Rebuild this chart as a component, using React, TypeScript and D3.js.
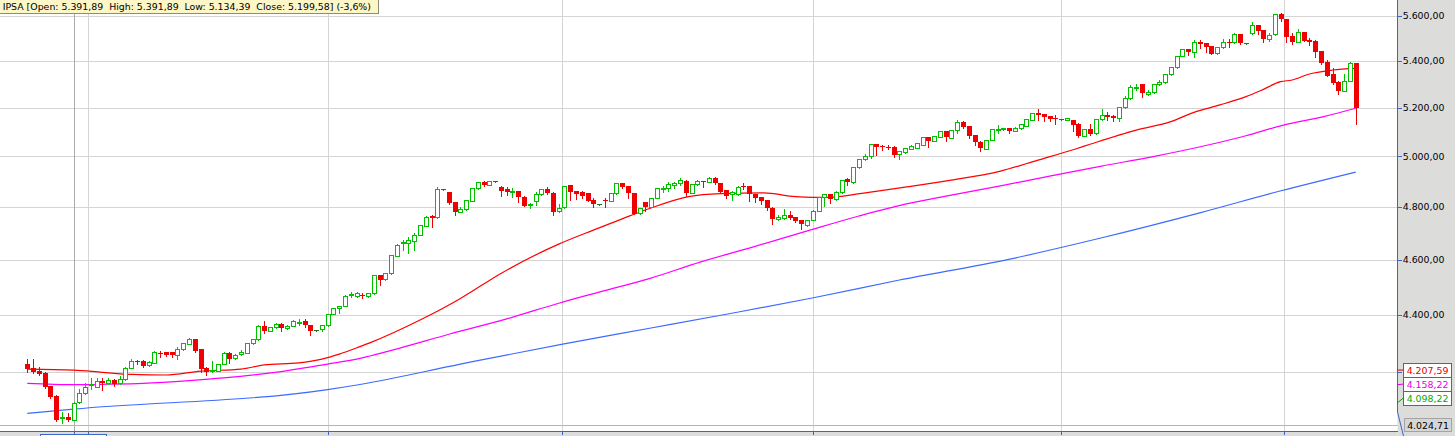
import React from 'react';
import * as d3 from 'd3';

// ---------- DATA ----------
// daily candles: [open, high, low, close]
const ohlc: [number, number, number, number][] = [
  [4228.2, 4244.2, 4202.0, 4211.1], [4214.5, 4244.2, 4199.2, 4202.0], [4203.3, 4216.9, 4191.8, 4195.2],
  [4197.6, 4201.0, 4146.0, 4151.4], [4153.7, 4155.0, 4112.7, 4118.0], [4120.3, 4123.7, 4038.9, 4041.2],
  [4047.8, 4068.4, 4030.5, 4051.0], [4050.1, 4063.2, 4038.9, 4041.2], [4041.2, 4102.0, 4040.0, 4098.22],
  [4099.4, 4142.3, 4098.0, 4129.3], [4129.3, 4163.8, 4128.0, 4151.4], [4158.8, 4179.6, 4143.3, 4160.5],
  [4151.4, 4179.6, 4150.0, 4169.5], [4169.5, 4179.6, 4140.3, 4162.8], [4162.8, 4181.7, 4161.0, 4173.9],
  [4173.9, 4177.3, 4154.8, 4160.5], [4162.8, 4188.4, 4161.0, 4176.3], [4176.3, 4218.9, 4175.0, 4214.5],
  [4214.5, 4244.2, 4213.0, 4237.4], [4238.4, 4241.8, 4228.2, 4235.0], [4237.4, 4241.8, 4218.9, 4221.3],
  [4223.7, 4237.4, 4221.3, 4234.0], [4232.6, 4273.8, 4231.0, 4269.3], [4264.9, 4273.8, 4253.4, 4262.5],
  [4268.3, 4271.0, 4255.8, 4259.0], [4268.3, 4270.0, 4253.4, 4259.0], [4260.0, 4285.3, 4244.2, 4278.6],
  [4278.6, 4302.0, 4277.0, 4299.4], [4298.8, 4317.0, 4297.0, 4314.4], [4314.4, 4316.0, 4270.3, 4273.8],
  [4279.6, 4280.5, 4202.0, 4210.1], [4214.5, 4218.9, 4191.8, 4202.0], [4204.3, 4237.4, 4202.0, 4206.7],
  [4205.3, 4230.0, 4204.0, 4228.2], [4228.2, 4269.0, 4227.0, 4266.9], [4264.9, 4270.3, 4232.6, 4246.3],
  [4247.6, 4261.0, 4246.0, 4259.0], [4262.5, 4276.2, 4259.0, 4270.3], [4266.9, 4301.0, 4265.0, 4299.4],
  [4299.4, 4316.0, 4298.0, 4314.4], [4313.4, 4362.0, 4312.0, 4360.0], [4360.0, 4378.6, 4334.4, 4343.5],
  [4343.5, 4357.0, 4342.0, 4355.4], [4355.4, 4369.0, 4354.0, 4367.0], [4367.0, 4369.0, 4343.5, 4352.9],
  [4352.9, 4362.0, 4351.0, 4360.0], [4360.0, 4381.1, 4359.0, 4376.5], [4373.0, 4385.7, 4364.6, 4375.1],
  [4377.6, 4383.5, 4357.5, 4362.5], [4362.5, 4364.0, 4329.5, 4343.5], [4344.9, 4346.0, 4344.0, 4344.9],
  [4348.4, 4364.0, 4343.5, 4362.5], [4362.5, 4404.0, 4361.0, 4402.4], [4402.4, 4425.0, 4401.0, 4422.7],
  [4422.7, 4432.0, 4406.0, 4430.9], [4430.9, 4469.0, 4430.0, 4466.8], [4470.5, 4481.3, 4463.2, 4474.1],
  [4466.8, 4480.0, 4465.0, 4477.7], [4470.5, 4477.7, 4459.6, 4465.8], [4466.8, 4478.0, 4465.0, 4476.6],
  [4476.6, 4545.0, 4475.0, 4543.3], [4543.3, 4545.0, 4506.7, 4524.9], [4527.5, 4551.0, 4526.0, 4549.5],
  [4549.5, 4619.0, 4548.0, 4617.3], [4613.6, 4657.0, 4612.0, 4654.7], [4661.1, 4673.5, 4635.9, 4667.1],
  [4663.3, 4686.0, 4623.6, 4673.5], [4670.9, 4698.9, 4635.9, 4692.5], [4692.5, 4732.0, 4691.0, 4730.5],
  [4727.8, 4764.0, 4726.0, 4762.3], [4765.0, 4767.0, 4724.0, 4756.1], [4760.0, 4876.6, 4758.0, 4869.9],
  [4868.8, 4870.0, 4867.0, 4868.8], [4858.2, 4860.0, 4812.0, 4814.1], [4819.1, 4821.0, 4768.9, 4780.4],
  [4780.4, 4800.9, 4779.0, 4790.8], [4790.8, 4828.0, 4790.0, 4826.9], [4824.2, 4874.0, 4823.0, 4872.1],
  [4872.1, 4898.0, 4871.0, 4896.3], [4896.3, 4901.5, 4881.8, 4885.7], [4886.9, 4903.0, 4886.0, 4901.5],
  [4900.3, 4901.5, 4899.0, 4900.3], [4879.0, 4881.0, 4843.7, 4863.3], [4868.8, 4879.0, 4846.5, 4858.2],
  [4862.1, 4872.1, 4839.8, 4864.0], [4862.1, 4864.0, 4819.1, 4837.5], [4839.8, 4841.0, 4803.0, 4804.7],
  [4806.3, 4814.1, 4794.7, 4810.2], [4821.9, 4859.4, 4807.5, 4849.2], [4849.2, 4871.0, 4848.0, 4869.9],
  [4869.9, 4879.0, 4852.0, 4853.1], [4855.4, 4857.0, 4768.9, 4781.6], [4785.4, 4810.2, 4781.6, 4794.7],
  [4798.6, 4883.0, 4797.0, 4881.8], [4885.7, 4887.0, 4826.9, 4857.0], [4862.1, 4863.0, 4829.6, 4850.4],
  [4859.4, 4862.1, 4833.5, 4842.5], [4853.1, 4855.0, 4823.0, 4824.2], [4828.7, 4835.0, 4798.6, 4810.2],
  [4810.2, 4811.0, 4809.0, 4810.2], [4827.2, 4835.0, 4800.9, 4823.0], [4824.2, 4855.0, 4823.0, 4853.1],
  [4853.1, 4894.0, 4852.0, 4892.4], [4892.4, 4894.0, 4875.0, 4876.6], [4881.8, 4883.0, 4833.5, 4853.1],
  [4853.1, 4855.0, 4771.0, 4772.7], [4775.4, 4796.0, 4774.0, 4794.7], [4818.0, 4819.0, 4784.3, 4800.9],
  [4800.9, 4836.0, 4800.0, 4835.0], [4834.7, 4873.0, 4833.0, 4872.1], [4869.9, 4881.8, 4857.0, 4872.1],
  [4872.1, 4898.7, 4862.1, 4888.5], [4885.7, 4898.7, 4875.0, 4892.4], [4892.4, 4912.0, 4885.7, 4905.4],
  [4902.6, 4904.0, 4843.7, 4855.4], [4855.4, 4891.0, 4854.0, 4889.6], [4888.5, 4905.4, 4885.7, 4901.5],
  [4901.5, 4903.0, 4879.0, 4896.3], [4898.7, 4916.0, 4897.0, 4914.4], [4914.4, 4918.5, 4891.0, 4892.4],
  [4892.4, 4894.0, 4858.0, 4859.4], [4866.0, 4867.0, 4835.0, 4843.7], [4850.4, 4862.1, 4826.9, 4857.0],
  [4849.2, 4880.0, 4848.0, 4879.0], [4881.8, 4892.4, 4868.8, 4876.6], [4881.8, 4883.0, 4824.2, 4849.2],
  [4850.4, 4852.0, 4820.3, 4835.0], [4837.5, 4839.0, 4811.4, 4823.0], [4826.9, 4828.0, 4788.1, 4794.7],
  [4797.0, 4798.0, 4734.3, 4752.3], [4752.3, 4768.9, 4747.7, 4762.3], [4756.1, 4790.8, 4755.0, 4768.9],
  [4768.9, 4784.3, 4752.3, 4758.8], [4760.0, 4761.0, 4743.1, 4746.9], [4749.6, 4751.0, 4715.2, 4733.2],
  [4730.5, 4751.0, 4726.7, 4749.6], [4749.6, 4787.0, 4748.0, 4785.4], [4784.3, 4839.0, 4783.0, 4837.5],
  [4837.5, 4851.0, 4803.6, 4849.2], [4849.2, 4851.0, 4816.4, 4829.9], [4829.9, 4863.3, 4828.0, 4857.0],
  [4857.0, 4907.0, 4855.0, 4905.4], [4908.0, 4914.4, 4885.7, 4896.3], [4896.3, 4958.0, 4895.0, 4956.1],
  [4956.1, 4991.0, 4955.0, 4989.7], [4988.5, 5009.5, 4987.0, 5001.3], [5001.3, 5050.0, 4992.2, 5048.9],
  [5048.9, 5050.0, 5005.3, 5039.1], [5043.2, 5045.0, 5025.7, 5036.7], [5039.1, 5046.0, 5028.5, 5035.1],
  [5039.1, 5041.0, 4998.6, 5005.3], [5008.3, 5022.0, 4988.5, 5020.4], [5016.4, 5034.0, 5015.0, 5032.6],
  [5029.8, 5045.0, 5028.0, 5043.2], [5035.1, 5055.0, 5034.0, 5053.0], [5046.0, 5080.0, 5045.0, 5078.6],
  [5078.6, 5080.0, 5039.1, 5063.5], [5063.5, 5083.0, 5062.0, 5081.1], [5078.6, 5104.0, 5077.0, 5102.3],
  [5102.3, 5104.0, 5063.5, 5078.6], [5074.4, 5109.0, 5073.0, 5107.5], [5107.5, 5148.9, 5093.9, 5141.9],
  [5141.9, 5143.0, 5117.0, 5118.7], [5124.1, 5125.0, 5074.4, 5084.2], [5087.0, 5088.0, 5046.0, 5057.0],
  [5059.5, 5061.0, 5021.7, 5032.6], [5029.8, 5068.0, 5028.0, 5066.4], [5066.4, 5112.0, 5065.0, 5110.4],
  [5109.6, 5128.2, 5093.9, 5111.6], [5110.4, 5116.0, 5109.0, 5114.5], [5114.5, 5116.0, 5093.9, 5102.3],
  [5103.4, 5118.0, 5102.0, 5117.0], [5114.5, 5132.0, 5113.0, 5131.1], [5125.3, 5154.0, 5124.0, 5152.8],
  [5148.9, 5178.0, 5148.0, 5176.8], [5176.8, 5193.6, 5148.9, 5169.8], [5172.7, 5174.0, 5146.0, 5161.4],
  [5165.6, 5167.0, 5144.8, 5152.8], [5155.7, 5169.8, 5131.1, 5151.6], [5151.6, 5152.5, 5150.5, 5151.6],
  [5148.9, 5157.0, 5148.0, 5155.7], [5148.9, 5150.0, 5102.3, 5128.2], [5132.3, 5135.2, 5080.0, 5081.1],
  [5083.9, 5112.0, 5083.0, 5110.4], [5110.4, 5132.3, 5089.0, 5089.8], [5093.9, 5153.0, 5093.0, 5151.6],
  [5151.6, 5193.6, 5150.0, 5169.8], [5169.8, 5183.5, 5148.9, 5162.7], [5166.9, 5168.0, 5144.8, 5158.5],
  [5158.5, 5203.0, 5146.0, 5202.0], [5202.0, 5249.9, 5201.0, 5240.3], [5240.3, 5296.6, 5239.0, 5286.7],
  [5285.0, 5299.5, 5275.1, 5289.3], [5299.5, 5301.0, 5247.0, 5261.1], [5259.4, 5275.1, 5253.9, 5265.3],
  [5265.3, 5301.0, 5264.0, 5299.5], [5299.5, 5317.9, 5298.0, 5308.1], [5308.1, 5344.0, 5307.0, 5342.5],
  [5342.5, 5374.0, 5341.0, 5372.7], [5372.7, 5424.0, 5371.0, 5422.0], [5422.0, 5454.0, 5421.0, 5452.7],
  [5452.7, 5454.0, 5426.4, 5438.2], [5438.2, 5492.4, 5418.9, 5482.3], [5484.9, 5492.4, 5455.8, 5476.1],
  [5477.8, 5479.0, 5440.9, 5462.8], [5465.9, 5467.0, 5429.0, 5430.8], [5433.9, 5461.0, 5432.0, 5460.2],
  [5460.2, 5495.5, 5459.0, 5484.9], [5484.9, 5495.5, 5462.8, 5480.5], [5482.3, 5522.3, 5481.0, 5517.8],
  [5517.8, 5519.0, 5476.0, 5477.8], [5477.8, 5479.0, 5476.5, 5477.8], [5522.3, 5574.3, 5521.0, 5559.5],
  [5559.5, 5561.0, 5517.8, 5533.9], [5537.0, 5538.0, 5484.9, 5495.5], [5495.5, 5522.3, 5489.3, 5514.7],
  [5517.8, 5609.0, 5516.0, 5607.7], [5607.7, 5615.0, 5577.4, 5586.4], [5586.4, 5588.0, 5484.9, 5507.1],
  [5510.2, 5522.3, 5474.8, 5484.9], [5484.9, 5541.5, 5484.0, 5526.7], [5526.7, 5528.0, 5488.0, 5489.3],
  [5492.4, 5499.9, 5470.4, 5484.9], [5489.3, 5491.0, 5418.9, 5440.9], [5443.9, 5445.0, 5389.0, 5390.2],
  [5397.1, 5404.5, 5335.0, 5336.4], [5343.8, 5370.0, 5300.0, 5303.8], [5310.6, 5312.0, 5258.1, 5272.1],
  [5272.1, 5343.8, 5271.0, 5313.6], [5313.6, 5397.1, 5312.0, 5390.2], [5391.89, 5391.89, 5134.39, 5199.58],
];

// moving averages: [candle index, value]
const maRed: [number, number][] = [
  [0, 4211], [8, 4207.6], [13, 4200], [18, 4193], [24, 4191], [30, 4204], [37, 4211], [41, 4225],
  [47, 4232], [51, 4245], [54, 4262], [57.6, 4288], [59.3, 4301], [68, 4381], [75, 4458], [82, 4549],
  [92, 4658], [98, 4711], [103, 4754], [107.5, 4792], [114.5, 4840], [120, 4852],
  [127.5, 4855], [133, 4840], [136, 4837.5], [139, 4837.5], [144.5, 4853], [152, 4877], [160, 4905],
  [168.5, 4941], [175, 4985], [181.5, 5030], [184, 5049], [192, 5107], [198, 5142], [202, 5181],
  [206.5, 5212], [211, 5247], [213.5, 5272], [217, 5311], [219, 5318], [222, 5344], [226, 5361], [230, 5368],
];
const maMagenta: [number, number][] = [
  [0, 4163], [8, 4158.2], [14, 4160], [20, 4163], [28, 4172], [34, 4181], [41.5, 4196.5], [52, 4228],
  [57.6, 4247.6], [59.3, 4255.8], [64.5, 4283], [73, 4331], [83, 4385], [92, 4441], [99, 4481],
  [108, 4532], [116.5, 4591], [125, 4643], [135.5, 4711], [144, 4765], [152, 4811], [160, 4846],
  [168.5, 4882], [177, 4921], [186, 4961], [194.5, 4997], [205, 5049], [211, 5084], [217.5, 5128],
  [224.5, 5163], [230, 5198],
];
const maBlue: [number, number][] = [
  [0, 4063], [8, 4077], [52, 4142], [57.6, 4159], [75, 4228], [92.7, 4297], [108, 4353],
  [120.8, 4400.7], [135.9, 4459.6], [151, 4525], [170.1, 4602], [185.7, 4680], [203, 4777],
  [216.9, 4862], [230, 4937],
];

const yTicks = [4200, 4400, 4600, 4800, 5000, 5200, 5400, 5600];
const hiddenTickLabels = [4200]; // covered by the crosshair value boxes in the reference
const gridIdx = [10.5, 52, 92.5, 136, 179, 217.5]; // date grid (between candles)
const symbol = 'IPSA';
const changePct = -3.6;
const crossIdx = 8;
const crossPrice = 4024.71;
const crossRed = 4207.59;
const crossMagenta = 4158.22;

// ---------- STYLE ----------
const W = 1455;
const H = 436;
const PLOT_R = 1397.5;
const PLOT_B = 431.5;
const GREEN = '#00c000';
const RED = '#f00000';
const DOJI = '#1f7a1f';
const AXIS_BLUE = '#3a66c4';
const GRID = '#d4d4d4';
const PANEL = '#dcdcdb';
const FONT = 'DejaVu Sans, Verdana, sans-serif';
const FS = 9.4;

export default function App() {
  const x = d3.scaleLinear().domain([0, ohlc.length - 1]).range([27.3, 1355.7]);
  const y = d3.scaleLog().domain([4400, 5600]).range([314.7, 16]);
  const loc = d3.formatLocale({ decimal: ',', thousands: '.', grouping: [3], currency: ['', ''], minus: '-' });
  const fmt = loc.format(',.2f');
  const fmtPct = loc.format('.1f');
  const line = d3
    .line<[number, number]>()
    .x((d) => x(d[0]))
    .y((d) => y(d[1]))
    .curve(d3.curveMonotoneX);

  const last = ohlc[ohlc.length - 1];
  const headerText = `${symbol} [Open: ${fmt(last[0])}  High: ${fmt(last[1])}  Low: ${fmt(last[2])}  Close: ${fmt(last[3])}] (${fmtPct(changePct)}%)`;

  const crossClose = ohlc[crossIdx][3];
  const labels = [
    { v: crossRed, color: '#e00000' },
    { v: crossMagenta, color: '#e000e0' },
    { v: crossClose, color: '#00a800' },
  ];
  const baseY = y(labels[0].v);
  const boxH = 14;

  const candles = ohlc.map(([o, h, l, c], i) => {
    const xi = Math.round(x(i));
    const up = c > o;
    const doji = c === o;
    const top = Math.round(y(Math.max(o, c)));
    const bot = Math.round(y(Math.min(o, c)));
    const color = doji ? DOJI : up ? GREEN : RED;
    const wick = (
      <line
        x1={xi + 0.5}
        x2={xi + 0.5}
        y1={Math.round(y(h))}
        y2={Math.round(y(l)) + 1}
        stroke={color}
        strokeWidth={1}
      />
    );
    let body;
    if (doji) {
      body = <line x1={xi - 2} x2={xi + 3} y1={top + 0.5} y2={top + 0.5} stroke={DOJI} strokeWidth={1} />;
    } else if (up) {
      body = (
        <rect x={xi - 1.5} y={top + 0.5} width={4} height={Math.max(bot - top, 1)} fill="#fff" stroke={GREEN} strokeWidth={1} />
      );
    } else {
      body = <rect x={xi - 2} y={top} width={5} height={Math.max(bot - top, 1)} fill={RED} />;
    }
    return (
      <g key={i}>
        {wick}
        {body}
      </g>
    );
  });

  return (
    <svg
      width={W}
      height={H}
      viewBox={`0 0 ${W} ${H}`}
      style={{ position: 'absolute', left: 0, top: 0, fontFamily: FONT }}
    >
      <rect x={0} y={0} width={W} height={H} fill="#fff" />
      {/* grid */}
      <g shapeRendering="crispEdges">
        {yTicks.map((t) => (
          <line key={t} x1={0} x2={PLOT_R} y1={Math.round(y(t)) + 0.5} y2={Math.round(y(t)) + 0.5} stroke={GRID} />
        ))}
        {gridIdx.map((g) => (
          <line key={g} x1={Math.round(x(g)) + 0.5} x2={Math.round(x(g)) + 0.5} y1={0} y2={PLOT_B} stroke={GRID} />
        ))}
        {/* crosshair */}
        <line x1={Math.round(x(crossIdx)) + 0.5} x2={Math.round(x(crossIdx)) + 0.5} y1={0} y2={PLOT_B} stroke="#ababab" />
        <line x1={0} x2={1404} y1={Math.round(y(crossPrice)) + 0.5} y2={Math.round(y(crossPrice)) + 0.5} stroke="#b4b4b4" />
      </g>

      {/* moving averages */}
      <g fill="none" strokeWidth={1.2}>
        <path d={line(maBlue) || ''} stroke="#3d6bff" />
        <path d={line(maMagenta) || ''} stroke="#ff00ff" />
        <path d={line(maRed) || ''} stroke="#ff0000" />
      </g>

      {/* candles */}
      <g shapeRendering="crispEdges">{candles}</g>

      {/* right axis panel and bottom strip */}
      <rect x={PLOT_R} y={0} width={W - PLOT_R} height={H} fill={PANEL} />
      <rect x={0} y={PLOT_B} width={PLOT_R} height={H - PLOT_B} fill={PANEL} />
      <g shapeRendering="crispEdges">
        <line x1={0} x2={PLOT_R} y1={PLOT_B} y2={PLOT_B} stroke={AXIS_BLUE} />
        {gridIdx.map((g) => (
          <line key={g} x1={Math.round(x(g)) + 0.5} x2={Math.round(x(g)) + 0.5} y1={PLOT_B} y2={PLOT_B + 3} stroke={AXIS_BLUE} />
        ))}
        <line x1={Math.round(x(crossIdx)) + 0.5} x2={Math.round(x(crossIdx)) + 0.5} y1={PLOT_B} y2={PLOT_B + 3} stroke={AXIS_BLUE} />
      </g>
      <path d={`M${PLOT_R},0 L${PLOT_R},412 L1403.5,${H}`} fill="none" stroke={AXIS_BLUE} strokeWidth={1} />

      {/* y ticks + labels */}
      {yTicks.map((t) => (
        <g key={t}>
          <line x1={PLOT_R} x2={1401.5} y1={Math.round(y(t)) + 0.5} y2={Math.round(y(t)) + 0.5} stroke={AXIS_BLUE} shapeRendering="crispEdges" />
          {hiddenTickLabels.includes(t) ? null : (
            <text x={1402.7} y={y(t) + 3.4} fontSize={FS} fill="#000">
              {fmt(t)}
            </text>
          )}
        </g>
      ))}

      {/* crosshair value labels */}
      {labels.map((lb, k) => {
        const cy = baseY + k * boxH;
        const vy = y(lb.v);
        return (
          <g key={k}>
            <line x1={PLOT_R} y1={vy} x2={1403.3} y2={cy} stroke={lb.color} strokeWidth={1} />
            <rect x={1403.5} y={cy - 6.5} width={48} height={boxH} fill="#fff" stroke={AXIS_BLUE} shapeRendering="crispEdges" />
            <text x={1427.5} y={cy + 3.6} fontSize={FS} fill={lb.color} textAnchor="middle">
              {fmt(lb.v)}
            </text>
          </g>
        );
      })}
      <rect x={1404.5} y={Math.round(y(crossPrice)) - 6.5} width={47} height={13} fill="#d6d6d6" stroke="#a4a4a4" shapeRendering="crispEdges" />
      <text x={1428} y={y(crossPrice) + 3.6} fontSize={FS} fill="#000" textAnchor="middle">
        {fmt(crossPrice)}
      </text>

      {/* date label stub under crosshair */}
      <rect x={40.5} y={434.5} width={66} height={12} fill="#fff" stroke={AXIS_BLUE} shapeRendering="crispEdges" />

      {/* header */}
      <rect x={-0.5} y={-0.5} width={378.5} height={13.5} fill="#fdf6c6" stroke="#8e8c72" shapeRendering="crispEdges" />
      <text x={2.7} y={10} fontSize={FS} fill="#000" style={{ whiteSpace: 'pre' }}>
        {headerText}
      </text>
    </svg>
  );
}
